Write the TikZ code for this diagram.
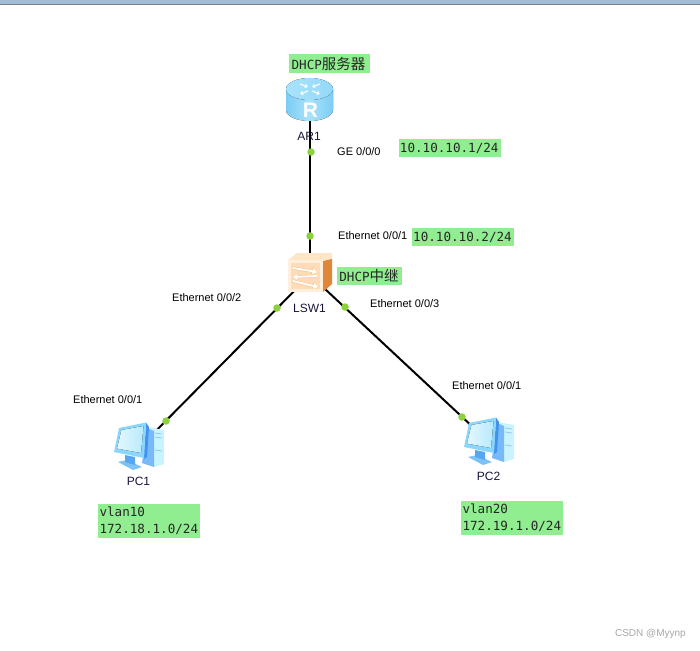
\documentclass[tikz,border=0pt]{standalone}
\usepackage{fontspec}
\setmainfont{Liberation Sans}
\newfontfamily\tagmono{DejaVu Sans Mono}
\newfontfamily\tagcjk{Noto Sans CJK SC}
\usetikzlibrary{arrows.meta}
\definecolor{tagGreen}{HTML}{90EE90}
\definecolor{portDot}{HTML}{8CD23C}
\definecolor{devText}{HTML}{18123C}
\definecolor{barBlue}{HTML}{A3BDD6}
\definecolor{rtSide}{HTML}{7CCDF4}
\definecolor{rtMid}{HTML}{A8E2FB}
\definecolor{rtTopA}{HTML}{A8E3FB}
\definecolor{rtTopB}{HTML}{94D9F9}
\definecolor{swTop}{HTML}{FFE6C6}
\definecolor{swSide}{HTML}{DF8639}
\definecolor{swEdge}{HTML}{FFEFDC}
\definecolor{swFace}{HTML}{FFDCB8}
\definecolor{swLine}{HTML}{FAC796}
\definecolor{pcFrame}{HTML}{8AD6FC}
\definecolor{pcBack}{HTML}{3F93EC}
\definecolor{pcGlassA}{HTML}{E2F8FF}
\definecolor{pcGlassB}{HTML}{B8EAFC}
\definecolor{pcSide}{HTML}{78B9F9}
\definecolor{pcFace}{HTML}{C9F4FF}
\definecolor{pcFoot}{HTML}{7CC3F8}
\definecolor{pcNeck}{HTML}{58A6EF}
\definecolor{pcSlot}{HTML}{8FCBEF}
\newcommand{\tagfont}{\fontsize{12.6pt}{17pt}\selectfont\tagmono}
\newcommand{\cjkpart}[1]{{\fontsize{14.5pt}{17pt}\selectfont\tagcjk #1}}
\tikzset{
  device/.style={inner sep=0pt, minimum size=4pt},
  link/.style={draw=black, line width=2pt},
  portdot/.style={circle, fill=portDot, inner sep=0pt, minimum size=7.5pt},
  tagbox/.style={fill=tagGreen, inner sep=0pt, font=\tagfont, text=black!85},
  porttext/.style={inner sep=0pt, anchor=west, text=black, font=\fontsize{11pt}{13pt}\selectfont},
  devname/.style={inner sep=0pt, text=devText, font=\fontsize{12pt}{14pt}\selectfont},
  pics/computer/.style={code={
    % tower: light face and darker side
    \fill[pcFace] (43,12) -- (59,15) -- (59,49) -- (49,52) -- cycle;
    \fill[pcSide] (42,13) -- (49,16) -- (49,52) -- (37,48) -- cycle;
    \draw[pcSlot, line width=.8pt] (50,18) -- (57,19) (50,22) -- (57,23) (50,35) -- (57,36);
    % stand
    \fill[pcFoot] (13,47) -- (22,45) -- (37,52) -- (28,55) -- cycle;
    \fill[pcNeck] (20,40) -- (30,42) -- (30,50) -- (20,47) -- cycle;
    % monitor back edge, frame and screen
    \fill[pcBack] (41,7.5) -- (44,12) -- (42,42) -- (39,44) -- cycle;
    \fill[pcFrame] (14,13) -- (41,7.5) -- (39,43) -- (9,37) -- cycle;
    \fill[left color=pcGlassA, right color=pcGlassB] (16.5,15) -- (38.5,11) -- (36,38) -- (12,33.5) -- cycle;
  }}
}
\begin{document}
\begin{tikzpicture}[x=1pt,y=-1pt]
\useasboundingbox (0,0) rectangle (700,650);

% window edge along the top
\fill[barBlue] (0,0) rectangle (700,4);
\fill[gray] (0,4) rectangle (700,5);

% device anchors
\node[device] (ar1) at (310,100) {};
\node[device] (lsw1) at (310,275) {};
\node[device] (pc1) at (138,449) {};
\node[device] (pc2) at (490,443) {};

% links
\draw[link] (ar1.center) -- (lsw1.center);
\draw[link] (lsw1.center) -- (pc1.center);
\draw[link] (lsw1.center) -- (pc2.center);

% router: cylinder body, top face, arrows and letter
\fill[left color=rtSide, right color=rtSide, middle color=rtMid]
  (286,89) -- (286,110)
  .. controls (286,116.1) and (296.5,121) .. (309.5,121)
  .. controls (322.5,121) and (333,116.1) .. (333,110)
  -- (333,89) -- cycle;
\fill[left color=rtTopA, right color=rtTopB] (309.5,89) ellipse [x radius=23.5, y radius=11];
\begin{scope}[white, line width=1.4pt, opacity=.85, -{Triangle[length=3pt,width=4.5pt]}]
  \draw (300,84) -- (308,87);
  \draw (320,84) -- (312,87);
  \draw (312,91) -- (320,94);
  \draw (308,91) -- (300,94);
\end{scope}
\node[inner sep=0pt, text=white, font=\fontsize{21pt}{21pt}\selectfont\bfseries] (rtmark) at (310.5,110.5) {R};

% switch: top, side, front panel and traffic arrows
\fill[swTop] (297,253) -- (332,253) -- (332,260) -- (288,260) -- cycle;
\fill[swSide] (323,261) -- (332,259) -- (332,284) -- (323,292) -- cycle;
\fill[swEdge] (288,260) rectangle (323,292);
\fill[swFace] (291,263) rectangle (320,289);
\begin{scope}[swLine, line width=3pt, -{Triangle[length=5.5pt,width=7pt]}]
  \draw (293,268) -- (317,272);
  \draw (317,276) -- (293,277);
  \draw (293,281) -- (318,287);
\end{scope}
\begin{scope}[white, line width=1.8pt, -{Triangle[length=4.5pt,width=5.5pt]}]
  \draw (293,268) -- (317,272);
  \draw (317,276) -- (293,277);
  \draw (293,281) -- (318,287);
\end{scope}

% hosts
\pic at (105,415) {computer};
\pic at (455,410) {computer};

% ports
\node[portdot] (p1) at (311,152) {};
\node[portdot] (p2) at (310,236) {};
\node[portdot] (p3) at (277,308) {};
\node[portdot] (p4) at (345,307) {};
\node[portdot] (p5) at (166,421) {};
\node[portdot] (p6) at (462,417) {};

% device names
\node[devname] (n1) at (309,136) {AR1};
\node[devname] (n2) at (309.5,308) {LSW1};
\node[devname] (n3) at (138.5,481) {PC1};
\node[devname] (n4) at (488.5,476.5) {PC2};

% interface names
\node[porttext] (t1) at (337,152) {GE 0/0/0};
\node[porttext] (t2) at (338,235.5) {Ethernet 0/0/1};
\node[porttext] (t3) at (172,297.5) {Ethernet 0/0/2};
\node[porttext] (t4) at (370,303.5) {Ethernet 0/0/3};
\node[porttext] (t5) at (73,399.5) {Ethernet 0/0/1};
\node[porttext] (t6) at (452,385.5) {Ethernet 0/0/1};

% green annotations
\node[tagbox, minimum width=81pt, minimum height=19pt] (g1) at (329.5,63.5) {\hspace*{-2pt}DHCP\cjkpart{服务器}};
\node[tagbox, minimum width=102.5pt, minimum height=18pt] (g2) at (449.75,148) {\hspace*{-1pt}10.10.10.1/24};
\node[tagbox, minimum width=102pt, minimum height=18pt] (g3) at (463,237) {\hspace*{-1pt}10.10.10.2/24};
\node[tagbox, minimum width=65pt, minimum height=18pt] (g4) at (369.5,276) {\hspace*{-1pt}DHCP\cjkpart{中继}};
\node[tagbox, text width=99pt, minimum width=102pt, minimum height=34pt, align=left] (g5) at (149,521) {vlan10\\172.18.1.0/24};
\node[tagbox, text width=99pt, minimum width=102pt, minimum height=34pt, align=left] (g6) at (512,517.5) {vlan20\\172.19.1.0/24};

% credit line
\node[inner sep=0pt, anchor=east, text=black!35, font=\fontsize{10pt}{12pt}\selectfont] (credit) at (686,634) {CSDN @Myynp};
\end{tikzpicture}
\end{document}
